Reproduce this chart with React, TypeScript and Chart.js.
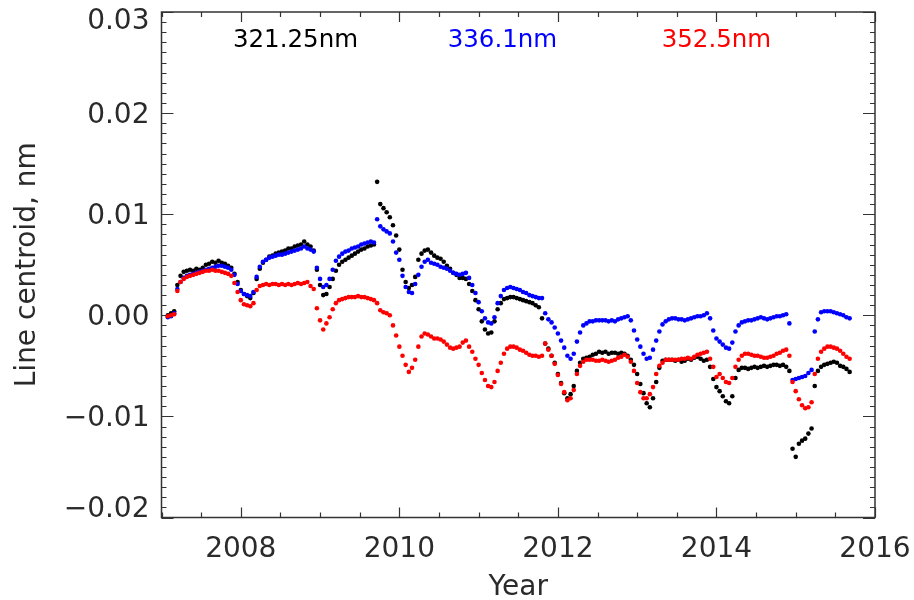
import React, { useEffect, useRef } from "react";
import { Chart, registerables } from "chart.js";

Chart.register(...registerables);

// Sample times (decimal year)
const years = [
  2007.08, 2007.12, 2007.16, 2007.20, 2007.24, 2007.28, 2007.32, 2007.36, 2007.40, 2007.44,
  2007.48, 2007.52, 2007.56, 2007.60, 2007.64, 2007.68, 2007.72, 2007.76, 2007.80, 2007.84,
  2007.88, 2007.92, 2007.96, 2008.00, 2008.04, 2008.08, 2008.12, 2008.16, 2008.20, 2008.24,
  2008.28, 2008.32, 2008.36, 2008.40, 2008.44, 2008.48, 2008.52, 2008.56, 2008.60, 2008.64,
  2008.68, 2008.72, 2008.76, 2008.80, 2008.84, 2008.88, 2008.92, 2008.96, 2009.00, 2009.04,
  2009.08, 2009.12, 2009.16, 2009.20, 2009.24, 2009.28, 2009.32, 2009.36, 2009.40, 2009.44,
  2009.48, 2009.52, 2009.56, 2009.60, 2009.64, 2009.68, 2009.72, 2009.76, 2009.80, 2009.84,
  2009.88, 2009.92, 2009.96, 2010.00, 2010.04, 2010.08, 2010.12, 2010.16, 2010.20, 2010.24,
  2010.28, 2010.32, 2010.36, 2010.40, 2010.44, 2010.48, 2010.52, 2010.56, 2010.60, 2010.64,
  2010.68, 2010.72, 2010.76, 2010.80, 2010.84, 2010.88, 2010.92, 2010.96, 2011.00, 2011.04,
  2011.08, 2011.12, 2011.16, 2011.20, 2011.24, 2011.28, 2011.32, 2011.36, 2011.40, 2011.44,
  2011.48, 2011.52, 2011.56, 2011.60, 2011.64, 2011.68, 2011.72, 2011.76, 2011.80, 2011.84,
  2011.88, 2011.92, 2011.96, 2012.00, 2012.04, 2012.08, 2012.12, 2012.16, 2012.20, 2012.24,
  2012.28, 2012.32, 2012.36, 2012.40, 2012.44, 2012.48, 2012.52, 2012.56, 2012.60, 2012.64,
  2012.68, 2012.72, 2012.76, 2012.80, 2012.84, 2012.88, 2012.92, 2012.96, 2013.00, 2013.04,
  2013.08, 2013.12, 2013.16, 2013.20, 2013.24, 2013.28, 2013.32, 2013.36, 2013.40, 2013.44,
  2013.48, 2013.52, 2013.56, 2013.60, 2013.64, 2013.68, 2013.72, 2013.76, 2013.80, 2013.84,
  2013.88, 2013.92, 2013.96, 2014.00, 2014.04, 2014.08, 2014.12, 2014.16, 2014.20, 2014.24,
  2014.28, 2014.32, 2014.36, 2014.40, 2014.44, 2014.48, 2014.52, 2014.56, 2014.60, 2014.64,
  2014.68, 2014.72, 2014.76, 2014.80, 2014.84, 2014.88, 2014.92, 2014.96, 2015.00, 2015.04,
  2015.08, 2015.12, 2015.16, 2015.20, 2015.24, 2015.28, 2015.32, 2015.36, 2015.40, 2015.44,
  2015.48, 2015.52, 2015.56, 2015.60, 2015.64, 2015.68,
];

// 321.25 nm line centroid (nm)
const line321 = [
  0.0000, 0.0002, 0.0004, 0.0030, 0.0039, 0.0043, 0.0044, 0.0045, 0.0044, 0.0046,
  0.0045, 0.0047, 0.0050, 0.0051, 0.0053, 0.0052, 0.0054, 0.0052, 0.0051, 0.0049,
  0.0047, 0.0041, 0.0033, 0.0025, 0.0021, 0.0019, 0.0017, 0.0022, 0.0036, 0.0046,
  0.0052, 0.0055, 0.0058, 0.0059, 0.0061, 0.0062, 0.0063, 0.0064, 0.0066, 0.0066,
  0.0068, 0.0069, 0.0070, 0.0073, 0.0070, 0.0068, 0.0064, 0.0045, 0.0030, 0.0020,
  0.0021, 0.0028, 0.0036, 0.0044, 0.0050, 0.0053, 0.0055, 0.0057, 0.0059, 0.0061,
  0.0063, 0.0065, 0.0066, 0.0068, 0.0069, 0.0070, 0.0132, 0.0110, 0.0106, 0.0102,
  0.0097, 0.0089, 0.0079, 0.0065, 0.0045, 0.0033, 0.0027, 0.0030, 0.0038, 0.0055,
  0.0061, 0.0064, 0.0065, 0.0062, 0.0059, 0.0057, 0.0056, 0.0053, 0.0049, 0.0046,
  0.0042, 0.0040, 0.0037, 0.0037, 0.0036, 0.0031, 0.0024, 0.0015, 0.0006, -0.0006,
  -0.0014, -0.0018, -0.0017, -0.0006, 0.0006, 0.0012, 0.0016, 0.0017, 0.0018, 0.0018,
  0.0017, 0.0016, 0.0015, 0.0014, 0.0013, 0.0012, 0.0010, 0.0008, -0.0003, -0.0028,
  -0.0033, -0.0040, -0.0047, -0.0058, -0.0067, -0.0077, -0.0082, -0.0078, -0.0070, -0.0055,
  -0.0047, -0.0043, -0.0042, -0.0041, -0.0039, -0.0038, -0.0036, -0.0037, -0.0036, -0.0038,
  -0.0037, -0.0037, -0.0038, -0.0037, -0.0038, -0.0040, -0.0044, -0.0049, -0.0058, -0.0068,
  -0.0077, -0.0087, -0.0091, -0.0082, -0.0066, -0.0052, -0.0045, -0.0044, -0.0044, -0.0044,
  -0.0045, -0.0044, -0.0046, -0.0045, -0.0043, -0.0044, -0.0042, -0.0041, -0.0043, -0.0045,
  -0.0044, -0.0051, -0.0063, -0.0071, -0.0075, -0.0080, -0.0085, -0.0087, -0.0080, -0.0062,
  -0.0054, -0.0052, -0.0052, -0.0053, -0.0052, -0.0051, -0.0052, -0.0051, -0.0050, -0.0051,
  -0.0050, -0.0049, -0.0049, -0.0050, -0.0049, -0.0051, -0.0055, -0.0132, -0.0140, -0.0127,
  -0.0124, -0.0122, -0.0117, -0.0112, -0.0070, -0.0055, -0.0051, -0.0049, -0.0048, -0.0047,
  -0.0046, -0.0047, -0.0050, -0.0051, -0.0053, -0.0056,
];

// 336.1 nm line centroid (nm)
const line336 = [
  -0.0002, -0.0001, 0.0002, 0.0026, 0.0033, 0.0037, 0.0039, 0.0040, 0.0041, 0.0042,
  0.0043, 0.0044, 0.0045, 0.0046, 0.0047, 0.0048, 0.0049, 0.0049, 0.0048, 0.0047,
  0.0045, 0.0040, 0.0031, 0.0024, 0.0021, 0.0020, 0.0019, 0.0023, 0.0038, 0.0048,
  0.0053, 0.0055, 0.0057, 0.0058, 0.0059, 0.0060, 0.0060, 0.0061, 0.0062, 0.0063,
  0.0064, 0.0065, 0.0066, 0.0068, 0.0066, 0.0065, 0.0063, 0.0047, 0.0036, 0.0028,
  0.0030, 0.0036, 0.0045, 0.0054, 0.0058, 0.0061, 0.0063, 0.0064, 0.0066, 0.0067,
  0.0068, 0.0070, 0.0071, 0.0072, 0.0073, 0.0072, 0.0095, 0.0088, 0.0085, 0.0083,
  0.0081, 0.0073, 0.0062, 0.0055, 0.0039, 0.0028, 0.0023, 0.0022, 0.0031, 0.0040,
  0.0048, 0.0053, 0.0055, 0.0052, 0.0051, 0.0050, 0.0048, 0.0047, 0.0046, 0.0044,
  0.0042, 0.0041, 0.0040, 0.0041, 0.0042, 0.0037, 0.0030, 0.0022, 0.0013, 0.0004,
  -0.0003, -0.0007, -0.0008, -0.0002, 0.0012, 0.0019, 0.0025, 0.0027, 0.0028, 0.0027,
  0.0026, 0.0025, 0.0023, 0.0022, 0.0020, 0.0019, 0.0018, 0.0017, 0.0017, 0.0002,
  -0.0004, -0.0007, -0.0012, -0.0018, -0.0025, -0.0032, -0.0040, -0.0043, -0.0038, -0.0026,
  -0.0017, -0.0010, -0.0008, -0.0006, -0.0006, -0.0005, -0.0005, -0.0005, -0.0005, -0.0006,
  -0.0005, -0.0006, -0.0004, -0.0003, -0.0002, -0.0001, -0.0005, -0.0015, -0.0024, -0.0031,
  -0.0038, -0.0043, -0.0042, -0.0034, -0.0025, -0.0016, -0.0009, -0.0006, -0.0004, -0.0003,
  -0.0003, -0.0004, -0.0004, -0.0005, -0.0004, -0.0003, -0.0002, -0.0001, -0.0001, 0.0000,
  0.0002, -0.0003, -0.0015, -0.0023, -0.0026, -0.0029, -0.0032, -0.0033, -0.0027, -0.0016,
  -0.0010, -0.0007, -0.0006, -0.0005, -0.0005, -0.0004, -0.0003, -0.0002, -0.0003, -0.0004,
  -0.0003, -0.0002, -0.0001, -0.0001, 0.0000, 0.0001, -0.0008, -0.0064, -0.0063, -0.0062,
  -0.0061, -0.0060, -0.0057, -0.0054, -0.0016, -0.0004, 0.0003, 0.0004, 0.0004, 0.0004,
  0.0003, 0.0002, 0.0001, 0.0000, -0.0002, -0.0003,
];

// 352.5 nm line centroid (nm)
const line352 = [
  -0.0001, 0.0000, 0.0001, 0.0024, 0.0033, 0.0036, 0.0038, 0.0039, 0.0040, 0.0041,
  0.0042, 0.0043, 0.0044, 0.0044, 0.0045, 0.0044, 0.0044, 0.0043, 0.0042, 0.0041,
  0.0039, 0.0032, 0.0023, 0.0015, 0.0011, 0.0010, 0.0009, 0.0012, 0.0025, 0.0029,
  0.0030, 0.0031, 0.0030, 0.0031, 0.0031, 0.0030, 0.0031, 0.0030, 0.0031, 0.0030,
  0.0031, 0.0032, 0.0031, 0.0032, 0.0033, 0.0029, 0.0026, 0.0007, -0.0005, -0.0014,
  -0.0008, -0.0002, 0.0006, 0.0012, 0.0015, 0.0016, 0.0017, 0.0018, 0.0018, 0.0018,
  0.0019, 0.0018, 0.0018, 0.0017, 0.0016, 0.0015, 0.0012, 0.0005, 0.0003, 0.0002,
  0.0000, -0.0010, -0.0020, -0.0031, -0.0040, -0.0049, -0.0056, -0.0052, -0.0044, -0.0031,
  -0.0021, -0.0018, -0.0019, -0.0021, -0.0023, -0.0023, -0.0024, -0.0026, -0.0029, -0.0032,
  -0.0033, -0.0032, -0.0031, -0.0027, -0.0025, -0.0031, -0.0036, -0.0043, -0.0049, -0.0057,
  -0.0064, -0.0070, -0.0071, -0.0066, -0.0055, -0.0047, -0.0038, -0.0033, -0.0031, -0.0031,
  -0.0032, -0.0034, -0.0035, -0.0037, -0.0039, -0.0040, -0.0040, -0.0041, -0.0040, -0.0028,
  -0.0034, -0.0040, -0.0048, -0.0059, -0.0068, -0.0076, -0.0084, -0.0082, -0.0074, -0.0058,
  -0.0050, -0.0046, -0.0044, -0.0044, -0.0044, -0.0045, -0.0045, -0.0044, -0.0045, -0.0046,
  -0.0045, -0.0044, -0.0042, -0.0041, -0.0039, -0.0041, -0.0046, -0.0055, -0.0067, -0.0076,
  -0.0082, -0.0082, -0.0078, -0.0071, -0.0058, -0.0050, -0.0047, -0.0044, -0.0044, -0.0044,
  -0.0044, -0.0044, -0.0043, -0.0043, -0.0042, -0.0043, -0.0041, -0.0039, -0.0038, -0.0037,
  -0.0036, -0.0043, -0.0051, -0.0061, -0.0058, -0.0062, -0.0066, -0.0067, -0.0062, -0.0051,
  -0.0044, -0.0040, -0.0038, -0.0038, -0.0039, -0.0040, -0.0040, -0.0041, -0.0042, -0.0042,
  -0.0041, -0.0040, -0.0038, -0.0037, -0.0035, -0.0034, -0.0040, -0.0066, -0.0075, -0.0083,
  -0.0089, -0.0092, -0.0091, -0.0086, -0.0058, -0.0043, -0.0036, -0.0033, -0.0031, -0.0031,
  -0.0032, -0.0033, -0.0035, -0.0038, -0.0041, -0.0043,
];

const seriesLabels = ["321.25nm", "336.1nm", "352.5nm"];
const seriesColors = ["#000000", "#0000ff", "#ff0000"];
const xTickValues = [2008, 2010, 2012, 2014, 2016];
const yTickValues = [-0.02, -0.01, 0, 0.01, 0.02, 0.03];

const FONT = "'DejaVu Sans', sans-serif";
const TEXT = "#2a2a2a";

const fmtY = (v: number) => {
  const n = Math.abs(v) < 1e-9 ? 0 : v;
  return (n < 0 ? "\u2212" : "") + Math.abs(n).toFixed(2);
};

const frameTicksPlugin = {
  id: "frameTicks",
  beforeDatasetsDraw(chart: any) {
    const { ctx, chartArea: a, scales } = chart;
    const x = scales.x;
    const y = scales.y;
    ctx.save();
    ctx.strokeStyle = "#333333";
    ctx.lineWidth = 1.5;
    ctx.strokeRect(a.left, a.top, a.right - a.left, a.bottom - a.top);
    ctx.lineWidth = 1.2;
    ctx.beginPath();
    // x: minor every half year, major every 2 years
    for (let k = 0; k <= 18; k++) {
      const v = 2007 + k * 0.5;
      const px = Math.round(x.getPixelForValue(v)) + 0.5;
      const len = v % 2 === 0 ? 10 : 5;
      ctx.moveTo(px, a.bottom);
      ctx.lineTo(px, a.bottom - len);
      ctx.moveTo(px, a.top);
      ctx.lineTo(px, a.top + len);
    }
    // y: minor every 0.001, major every 0.01
    for (let k = 0; k <= 50; k++) {
      const v = -0.02 + k * 0.001;
      const py = Math.round(y.getPixelForValue(v)) + 0.5;
      const len = k % 10 === 0 ? 12 : 5;
      ctx.moveTo(a.left, py);
      ctx.lineTo(a.left + len, py);
      ctx.moveTo(a.right, py);
      ctx.lineTo(a.right - len, py);
    }
    ctx.stroke();
    ctx.restore();
  },
};

const legendX = [2008.69, 2011.3, 2014.0];
const legendY = 0.0272;

const seriesTextPlugin = {
  id: "seriesText",
  afterDraw(chart: any) {
    const { ctx, scales } = chart;
    ctx.save();
    ctx.font = `24.5px ${FONT}`;
    ctx.textAlign = "center";
    ctx.textBaseline = "middle";
    seriesLabels.forEach((t, i) => {
      ctx.fillStyle = seriesColors[i];
      ctx.fillText(t, scales.x.getPixelForValue(legendX[i]), scales.y.getPixelForValue(legendY));
    });
    ctx.restore();
  },
};

export default function App() {
  const ref = useRef<HTMLCanvasElement>(null);
  useEffect(() => {
    if (!ref.current) return;
    const mk = (vals: number[]) => years.map((x, i) => ({ x, y: vals[i] }));
    const series = [line321, line336, line352];
    const lastY = yTickValues.length - 1;
    const chart = new Chart(ref.current, {
      type: "scatter",
      data: {
        datasets: series.map((vals, i) => ({
          label: seriesLabels[i],
          data: mk(vals),
          backgroundColor: seriesColors[i],
          borderColor: seriesColors[i],
          pointRadius: 2.3,
          pointBorderWidth: 0,
          pointHoverRadius: 2.3,
          order: 3 - i,
        })),
      },
      options: {
        responsive: false,
        animation: false,
        devicePixelRatio: 1,
        layout: { padding: { left: 0, top: 12, right: 39, bottom: 0 } },
        plugins: { legend: { display: false }, tooltip: { enabled: false } },
        scales: {
          x: {
            type: "linear",
            min: 2007,
            max: 2016,
            afterBuildTicks: (s: any) => {
              s.ticks = xTickValues.map((v) => ({ value: v }));
            },
            afterFit: (s: any) => {
              s.height = 82.5;
              s.paddingLeft = 0;
              s.paddingRight = 0;
            },
            grid: { display: false, drawTicks: false },
            border: { display: false },
            ticks: {
              font: { family: FONT, size: 28 },
              color: TEXT,
              padding: 15,
              maxRotation: 0,
              autoSkip: false,
              callback: (v: any) => String(v),
            },
            title: {
              display: true,
              text: "Year",
              color: TEXT,
              font: { family: FONT, size: 28, lineHeight: 0.9 },
              padding: { top: 0, bottom: 0 },
            },
          },
          y: {
            type: "linear",
            min: -0.02,
            max: 0.03,
            afterBuildTicks: (s: any) => {
              s.ticks = yTickValues.map((v) => ({ value: v }));
            },
            afterFit: (s: any) => {
              s.width = 161.5;
              s.paddingTop = 0;
              s.paddingBottom = 0;
            },
            grid: { display: false, drawTicks: false },
            border: { display: false },
            ticks: {
              font: (c: any) => ({
                family: FONT,
                size: 28,
                lineHeight: c.index === 0 ? "20px" : c.index === lastY ? "15px" : 1.2,
              }),
              color: TEXT,
              padding: 12,
              labelOffset: 2.5,
              autoSkip: false,
              callback: (v: any, i: number) => {
                const s = fmtY(Number(v));
                if (i === 0) return [s, ""];
                if (i === lastY) return ["", s];
                return s;
              },
            },
            title: {
              display: true,
              text: "Line centroid, nm",
              color: TEXT,
              font: { family: FONT, size: 28 },
              padding: { top: 11, bottom: 0 },
            },
          },
        },
      },
      plugins: [frameTicksPlugin, seriesTextPlugin],
    } as any);
    return () => chart.destroy();
  }, []);

  return (
    <div style={{ position: "absolute", left: 0, top: 0, width: 914, height: 600, background: "#ffffff" }}>
      <canvas ref={ref} width={914} height={600} style={{ display: "block", width: 914, height: 600 }} />
    </div>
  );
}
